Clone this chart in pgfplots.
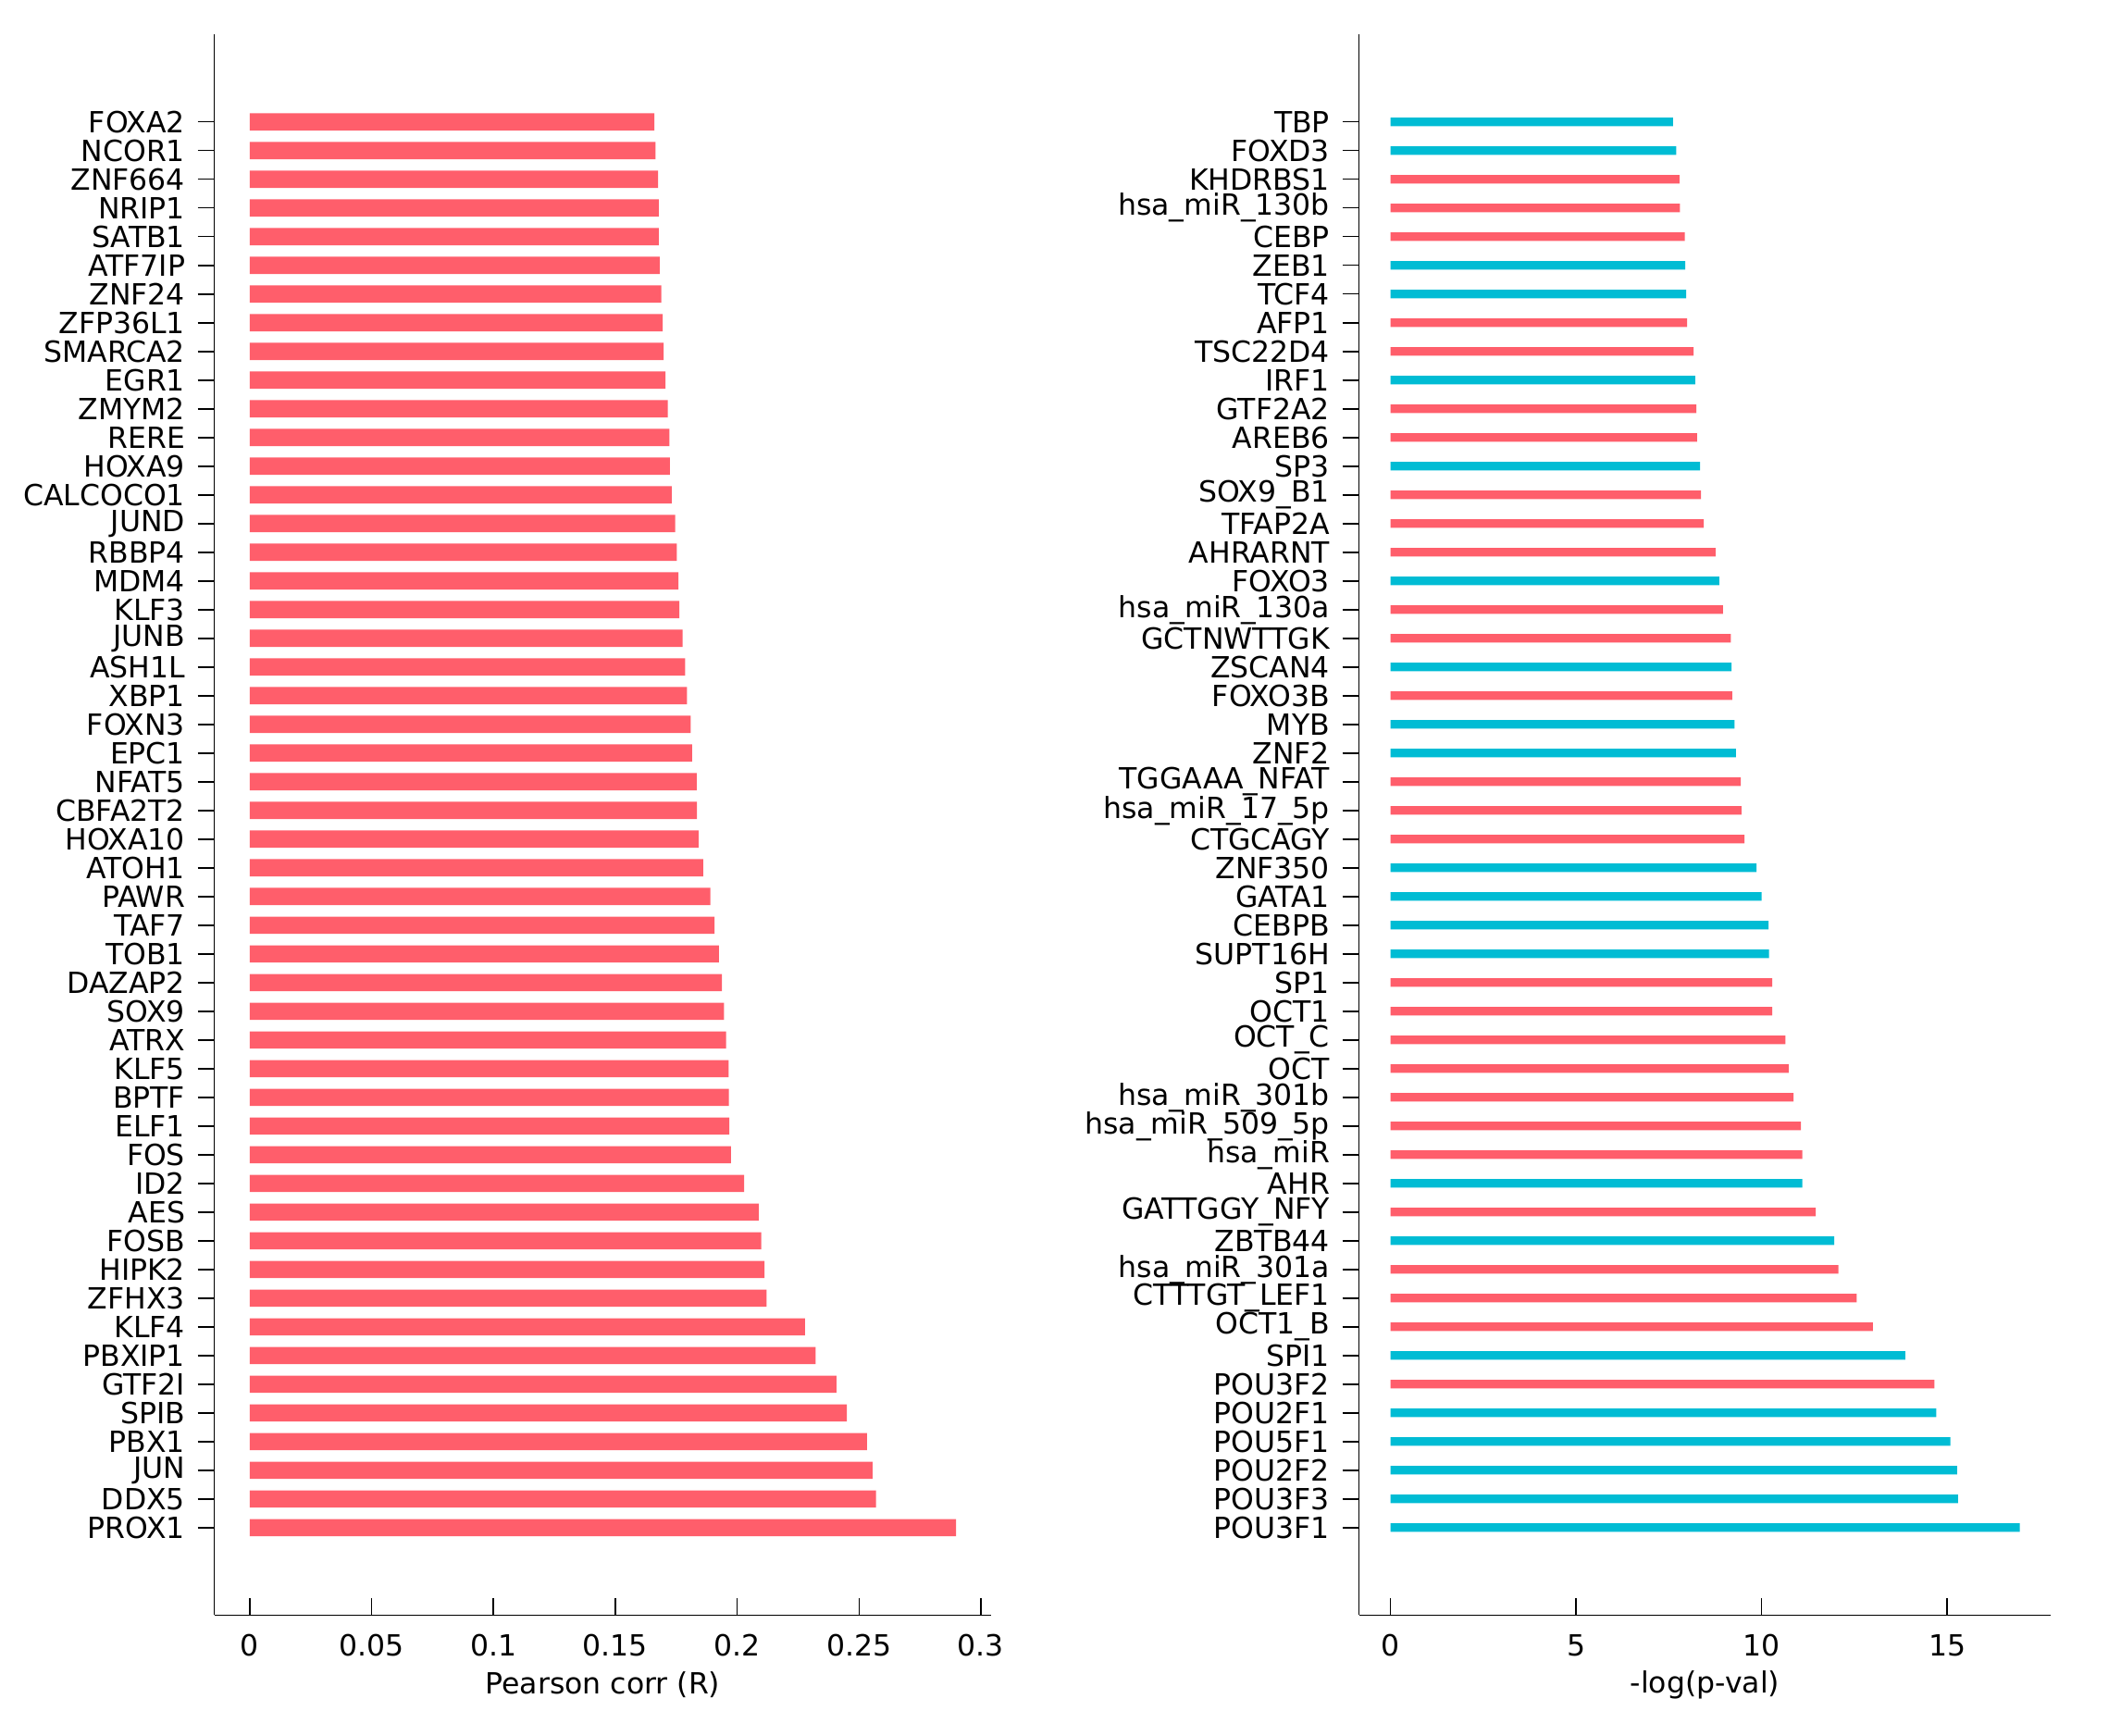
\documentclass[border=0pt]{standalone}
\usepackage{fontspec}
\setmainfont{DejaVu Sans}
\usepackage{pgfplots}
\pgfplotsset{compat=1.18}
\usepackage{pgfplotstable}

\definecolor{barred}{HTML}{FF5E6B}
\definecolor{barcyan}{HTML}{00BCD4}

% left panel: Pearson corr, y = 0 is the bottom bar
\pgfplotstableread{
y x
0 0.2898
1 0.2570
2 0.2555
3 0.2533
4 0.2450
5 0.2407
6 0.2322
7 0.2278
8 0.2121
9 0.2112
10 0.2099
11 0.2088
12 0.2029
13 0.1975
14 0.1968
15 0.1966
16 0.1965
17 0.1955
18 0.1946
19 0.1938
20 0.1925
21 0.1907
22 0.1890
23 0.1861
24 0.1842
25 0.1835
26 0.1834
27 0.1815
28 0.1809
29 0.1794
30 0.1787
31 0.1776
32 0.1763
33 0.1759
34 0.1752
35 0.1746
36 0.1732
37 0.1724
38 0.1722
39 0.1715
40 0.1706
41 0.1698
42 0.1695
43 0.1689
44 0.1682
45 0.1678
46 0.1678
47 0.1676
48 0.1665
49 0.1660
}\corrdata

% right panel, red bars
\pgfplotstableread{
y x
5 14.66
7 13.00
8 12.56
9 12.07
11 11.46
13 11.10
14 11.06
15 10.86
16 10.73
17 10.64
18 10.29
19 10.29
24 9.54
25 9.46
26 9.44
29 9.21
31 9.17
32 8.96
34 8.76
35 8.44
36 8.37
38 8.26
39 8.24
41 8.17
42 7.99
45 7.93
46 7.80
47 7.79
}\pvalred

% right panel, cyan bars
\pgfplotstableread{
y x
0 16.96
1 15.29
2 15.27
3 15.09
4 14.71
6 13.87
10 11.96
12 11.10
20 10.20
21 10.19
22 10.00
23 9.86
27 9.31
28 9.27
30 9.19
33 8.86
37 8.34
40 8.21
43 7.97
44 7.94
48 7.70
49 7.61
}\pvalcyan

\pgfplotsset{
  hbars/.style={
    scale only axis,
    height=569.4pt,
    axis x line*=bottom, axis y line*=left,
    axis line style={-, line width=0.5pt},
    tick align=inside, major tick length=6pt,
    tick style={black, line width=0.5pt},
    ymin=-3.05, ymax=52.05, ytick={0,...,49},
    font=\fontsize{10.5}{12.6}\selectfont,
    xticklabel style={yshift=-3.5pt},
    yticklabel style={xshift=-1pt},
    xlabel style={at={(axis description cs:0.5,0)}, anchor=center, yshift=-25pt},
    xbar, bar shift=0pt,
  },
}

\begin{document}
\begin{tikzpicture}
\path[use as bounding box] (0,0) rectangle (764pt,625pt);

\begin{axis}[hbars,
  at={(77.2pt,43.2pt)}, anchor=south west, width=279.9pt,
  xmin=-0.0145, xmax=0.3043,
  xtick={0,0.05,0.1,0.15,0.2,0.25,0.3},
  xticklabels={0,0.05,0.1,0.15,0.2,0.25,0.3},
  yticklabels={PROX1,DDX5,JUN,PBX1,SPIB,GTF2I,PBXIP1,KLF4,ZFHX3,HIPK2,FOSB,AES,ID2,FOS,ELF1,BPTF,KLF5,ATRX,SOX9,DAZAP2,TOB1,TAF7,PAWR,ATOH1,HOXA10,CBFA2T2,NFAT5,EPC1,FOXN3,XBP1,ASH1L,JUNB,KLF3,MDM4,RBBP4,JUND,CALCOCO1,HOXA9,RERE,ZMYM2,EGR1,SMARCA2,ZFP36L1,ZNF24,ATF7IP,SATB1,NRIP1,ZNF664,NCOR1,FOXA2},
  xlabel={Pearson corr (R)},
  bar width=0.6,
]
\addplot[fill=barred, draw=none] table[x=x, y=y] {\corrdata};
\end{axis}

\begin{axis}[hbars,
  at={(489.5pt,43.2pt)}, anchor=south west, width=249.3pt,
  xmin=-0.85, xmax=17.8,
  xtick={0,5,10,15},
  xticklabels={0,5,10,15},
  yticklabels={POU3F1,POU3F3,POU2F2,POU5F1,POU2F1,POU3F2,SPI1,OCT1\_B,CTTTGT\_LEF1,hsa\_miR\_301a,ZBTB44,GATTGGY\_NFY,AHR,hsa\_miR,hsa\_miR\_509\_5p,hsa\_miR\_301b,OCT,OCT\_C,OCT1,SP1,SUPT16H,CEBPB,GATA1,ZNF350,CTGCAGY,hsa\_miR\_17\_5p,TGGAAA\_NFAT,ZNF2,MYB,FOXO3B,ZSCAN4,GCTNWTTGK,hsa\_miR\_130a,FOXO3,AHRARNT,TFAP2A,SOX9\_B1,SP3,AREB6,GTF2A2,IRF1,TSC22D4,AFP1,TCF4,ZEB1,CEBP,hsa\_miR\_130b,KHDRBS1,FOXD3,TBP},
  xlabel={-log(p-val)},
  bar width=0.3,
]
\addplot[fill=barred, draw=none] table[x=x, y=y] {\pvalred};
\addplot[fill=barcyan, draw=none] table[x=x, y=y] {\pvalcyan};
\end{axis}
\end{tikzpicture}
\end{document}
